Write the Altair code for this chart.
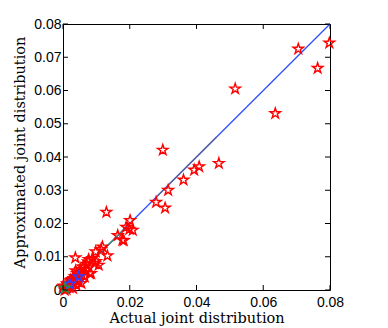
import math
import altair as alt
import pandas as pd

# ---- data ----
red_x = [0.0798, 0.0705, 0.0763, 0.0516, 0.0636, 0.0467, 0.0408, 0.0393, 0.0361,
         0.0299, 0.0315, 0.0279, 0.0306, 0.0130, 0.0201, 0.0189, 0.0209, 0.0199,
         0.0164, 0.0182, 0.0178, 0.0118, 0.0114, 0.0098, 0.0133, 0.0037, 0.0077,
         0.0099, 0.0107, 0.0084,
         0.0075, 0.0095, 0.0080, 0.0060, 0.0050, 0.0065, 0.0035, 0.0045, 0.0025,
         0.0020, 0.0005, 0.0000, 0.0030, 0.0055, 0.0015, 0.0040, 0.0070, 0.0062,
         0.0052, 0.0042, 0.0032, 0.0022, 0.0012, 0.0008, 0.0003, 0.0028, 0.0018,
         0.0047, 0.0010, 0.0038, 0.0057, 0.0068, 0.0088]
red_y = [0.0743, 0.0725, 0.0667, 0.0605, 0.0531, 0.0381, 0.0371, 0.0361, 0.0331,
         0.0421, 0.0300, 0.0264, 0.0247, 0.0234, 0.0209, 0.0189, 0.0180, 0.0183,
         0.0164, 0.0149, 0.0150, 0.0130, 0.0122, 0.0115, 0.0103, 0.0097, 0.0092,
         0.0086, 0.0075, 0.0050,
         0.0085, 0.0080, 0.0050, 0.0070, 0.0055, 0.0040, 0.0040, 0.0025, 0.0025,
         0.0010, 0.0000, 0.0010, 0.0005, 0.0020, 0.0020, 0.0015, 0.0078, 0.0068,
         0.0062, 0.0050, 0.0035, 0.0030, 0.0018, 0.0005, 0.0012, 0.0032, 0.0008,
         0.0028, 0.0002, 0.0058, 0.0045, 0.0060, 0.0095]
blue_x = [0.0047, 0.0020]
blue_y = [0.0040, 0.0018]
green_x = [0.0006]
green_y = [0.0006]

diag_blue = [0.0, 0.08]
diag_green = [0.0, 0.019]
diag_gray = [0.028, 0.046]

x_ticks = [0.0, 0.02, 0.04, 0.06, 0.08]
y_ticks = [0.0, 0.01, 0.02, 0.03, 0.04, 0.05, 0.06, 0.07, 0.08]

W, H = 267, 266

# 5-pointed star path in [-1, 1]
pts = []
for k in range(10):
    r = 1.0 if k % 2 == 0 else 0.382
    a = math.radians(-90 + 36 * k)
    pts.append(f"{r*math.cos(a):.3f},{r*math.sin(a):.3f}")
STAR = "M" + "L".join(pts) + "Z"

dom = [0, 0.08]
xs = alt.Scale(domain=dom, nice=False, zero=False)
ys = alt.Scale(domain=dom, nice=False, zero=False)
lbl = "datum.value == 0 ? '0' : format(datum.value, '.2f')"

x_axis = alt.Axis(values=x_ticks, labelExpr=lbl, ticks=False, tickSize=0, grid=False,
                  domain=False, labelPadding=5, labelFlush=False,
                  title="Actual joint distribution",
                  titleX=W / 2, titleY=32, titleBaseline="alphabetic")
y_axis = alt.Axis(values=y_ticks, labelExpr=lbl, ticks=False, tickSize=0, grid=False,
                  domain=False, labelPadding=2, labelFlush=False,
                  title="Approximated joint distribution",
                  titleX=-39, titleY=128, titleAngle=270, titleAlign="center",
                  titleBaseline="alphabetic")

X = alt.X("x:Q", scale=xs, axis=x_axis)
Y = alt.Y("y:Q", scale=ys, axis=y_axis)

line_df = lambda v: pd.DataFrame({"x": v, "y": v})

blue_line = alt.Chart(line_df(diag_blue)).mark_line(color="#2f4fff", strokeWidth=1.3).encode(x=X, y=Y)
green_line = alt.Chart(line_df(diag_green)).mark_line(color="#2e8c6e", strokeWidth=1.3).encode(x=X, y=Y)
gray_line = alt.Chart(line_df(diag_gray)).mark_line(color="#5a6496", strokeWidth=1.3).encode(x=X, y=Y)

def stars(xv, yv, color):
    return alt.Chart(pd.DataFrame({"x": xv, "y": yv})).mark_point(
        shape=STAR, size=120, filled=False, stroke=color, strokeWidth=1.4, opacity=1
    ).encode(x=X, y=Y)

red_pts = stars(red_x, red_y, "#ff0000")
blue_pts = stars(blue_x, blue_y, "#3040ff")
green_pts = stars(green_x, green_y, "#2e8c3e")

# inward box ticks (MATLAB style)
xt = pd.DataFrame({"x": x_ticks})
yt = pd.DataFrame({"y": y_ticks})
tk = dict(color="black", strokeWidth=1)
bottom_t = alt.Chart(xt).mark_rule(**tk).encode(x=X, y=alt.value(H), y2=alt.value(H - 5))
top_t = alt.Chart(xt).mark_rule(**tk).encode(x=X, y=alt.value(0), y2=alt.value(5))
left_t = alt.Chart(yt).mark_rule(**tk).encode(y=Y, x=alt.value(0), x2=alt.value(5))
right_t = alt.Chart(yt).mark_rule(**tk).encode(y=Y, x=alt.value(W), x2=alt.value(W - 5))

chart = alt.layer(
    blue_line, green_line, gray_line, red_pts, blue_pts, green_pts,
    bottom_t, top_t, left_t, right_t
).properties(
    width=W, height=H,
    autosize=alt.AutoSizeParams(type="none"),
    padding={"left": 55, "top": 16, "right": 50, "bottom": 38},
    background="white",
).configure_view(
    stroke="black", strokeWidth=1
).configure_axis(
    labelFont="Liberation Sans", labelFontSize=14, labelColor="black",
    titleFont="DejaVu Serif", titleFontSize=14.5, titleFontWeight="normal",
    titleColor="black",
)

chart.save("out.html", embed_options={"renderer": "svg", "actions": False})
